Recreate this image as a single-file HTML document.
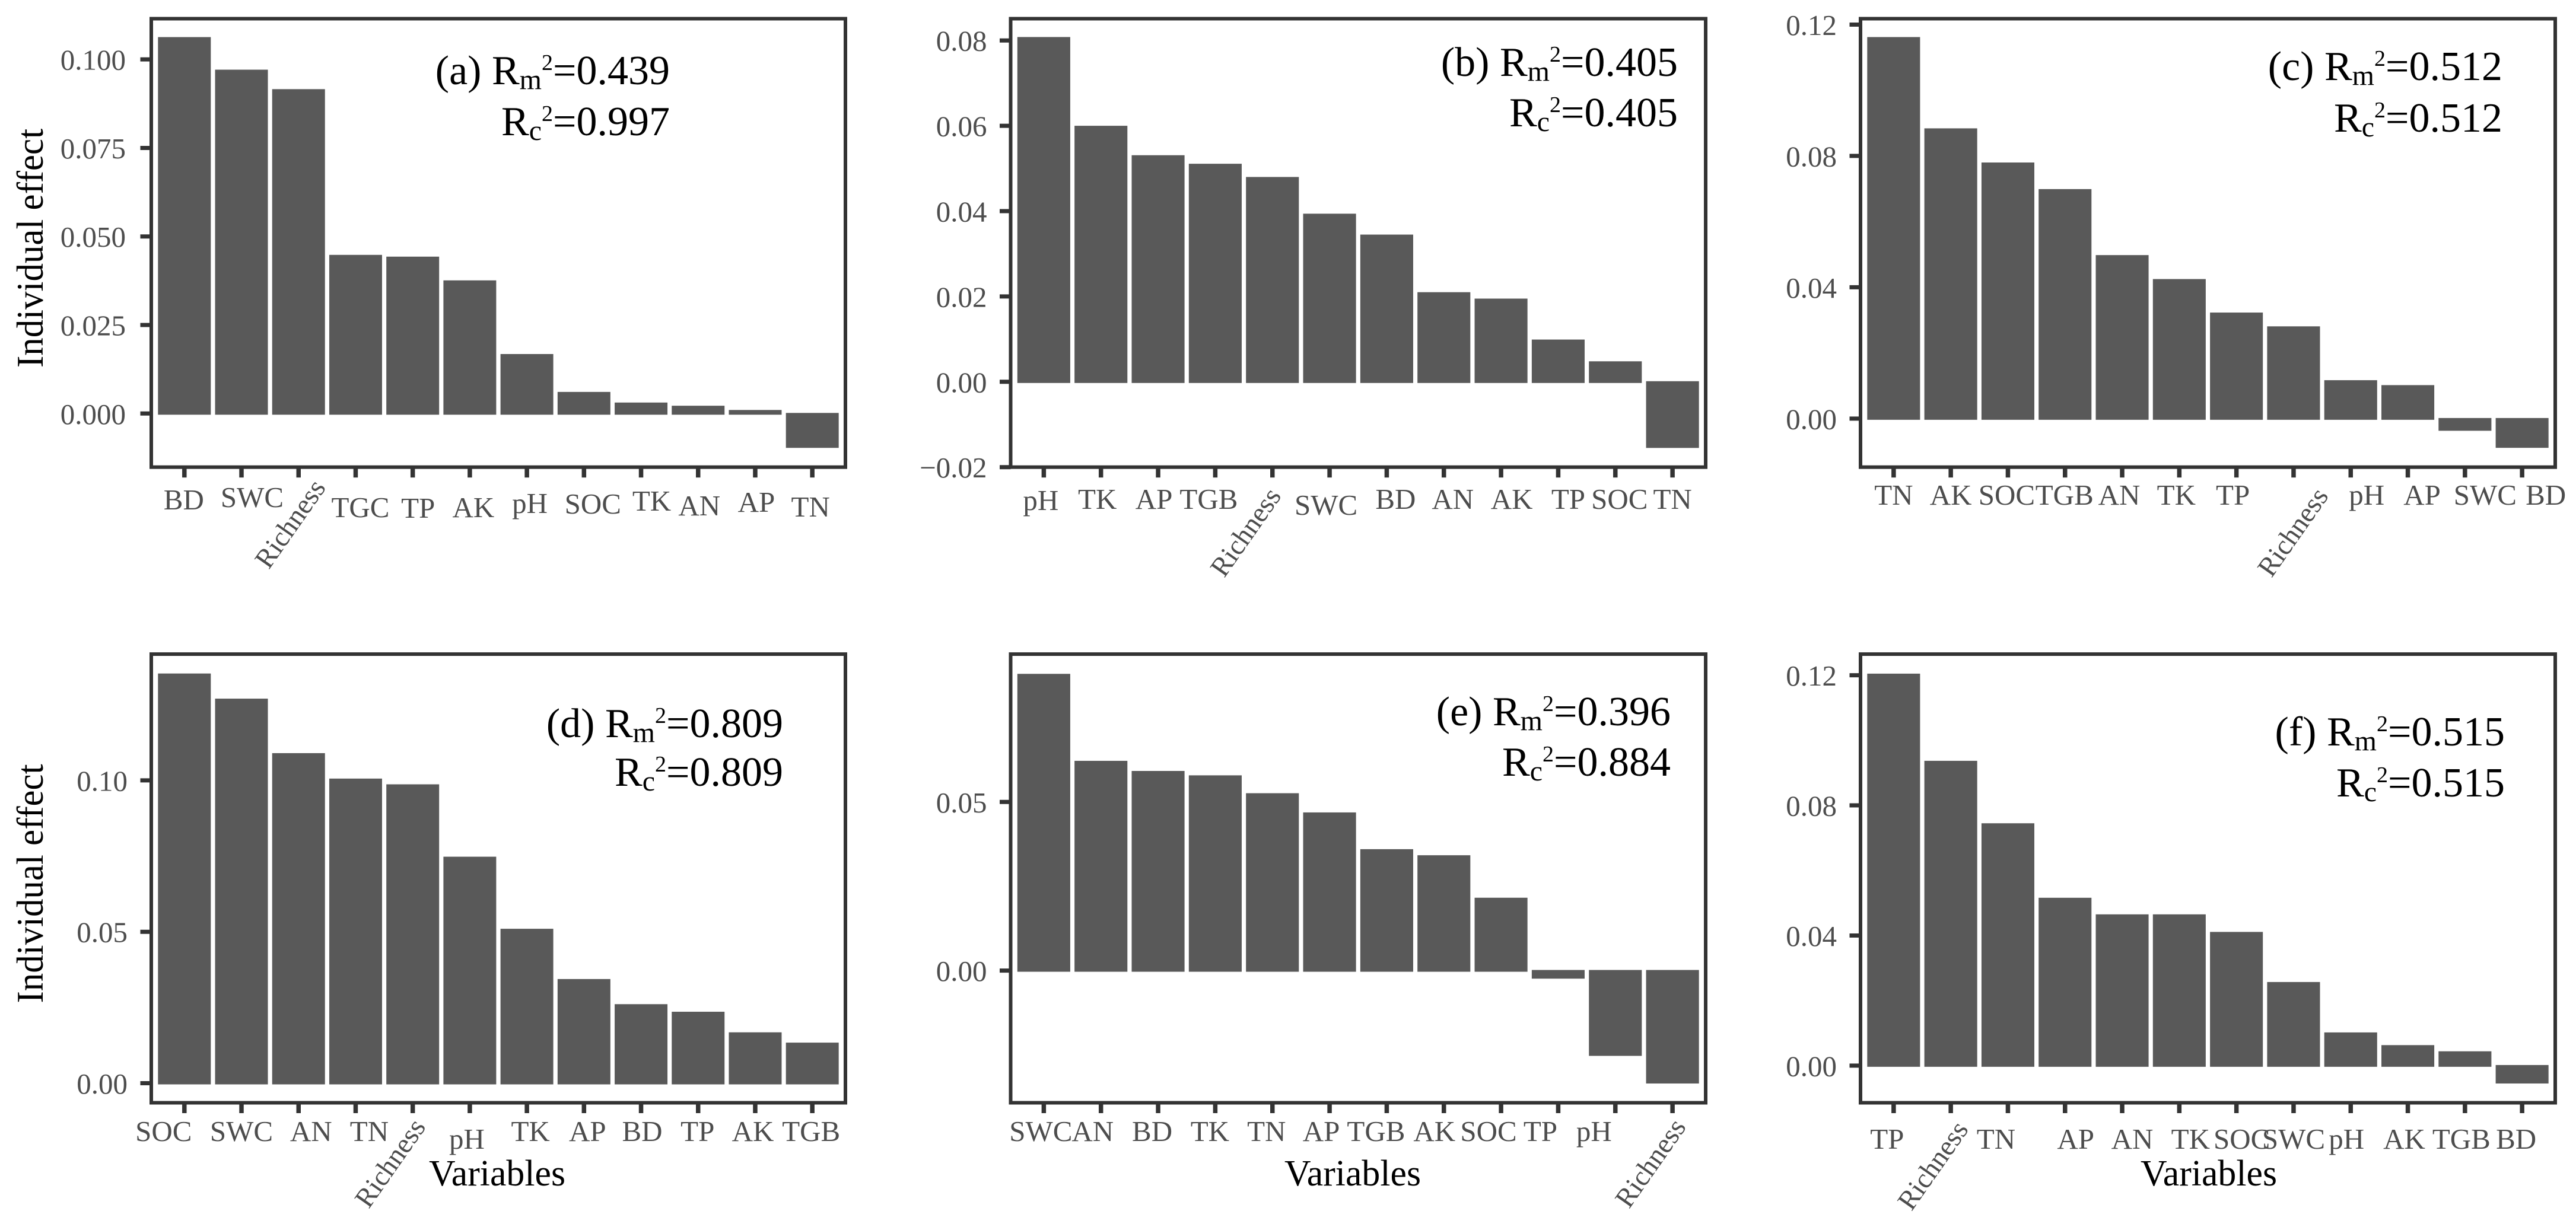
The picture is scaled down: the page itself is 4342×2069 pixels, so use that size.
<!DOCTYPE html>
<html lang="en">
<head>
<meta charset="utf-8">
<title>Individual effect of variables, panels a-f</title>
<style>
html,body{margin:0;padding:0;background:#fff;width:4342px;height:2069px;overflow:hidden}
svg{display:block}
text{font-family:"Liberation Serif",serif}
</style>
</head>
<body>
<svg id="chart" xmlns="http://www.w3.org/2000/svg" width="4342" height="2069" viewBox="0 0 4342 2069"></svg>
<script>
// Panel (a)
const panelACategories = ['BD','SWC','Richness','TGC','TP','AK','pH','SOC','TK','AN','AP','TN'];
const panelAValues = [0.1063,0.0971,0.0916,0.0448,0.0443,0.0376,0.0168,0.0061,0.0031,0.0022,0.0010,-0.0097];
const panelATicks = [0,0.025,0.05,0.075,0.1];
const panelATickLabels = ['0.000','0.025','0.050','0.075','0.100'];
const panelADomain = [-0.01514,0.1115];
// Panel (b)
const panelBCategories = ['pH','TK','AP','TGB','Richness','SWC','BD','AN','AK','TP','SOC','TN'];
const panelBValues = [0.0808,0.0600,0.0531,0.0511,0.0480,0.0394,0.0345,0.0210,0.0195,0.0099,0.0048,-0.0155];
const panelBTicks = [-0.02,0,0.02,0.04,0.06,0.08];
const panelBTickLabels = ['\u22120.02','0.00','0.02','0.04','0.06','0.08'];
const panelBDomain = [-0.0200,0.0851];
// Panel (c)
const panelCCategories = ['TN','AK','SOC','TGB','AN','TK','TP','Richness','pH','AP','SWC','BD'];
const panelCValues = [0.1162,0.0884,0.0780,0.0699,0.0498,0.0425,0.0323,0.0281,0.0117,0.0102,-0.0037,-0.0089];
const panelCTicks = [0,0.04,0.08,0.12];
const panelCTickLabels = ['0.00','0.04','0.08','0.12'];
const panelCDomain = [-0.01478,0.1218];
// Panel (d)
const panelDCategories = ['SOC','SWC','AN','TN','Richness','pH','TK','AP','BD','TP','AK','TGB'];
const panelDValues = [0.1353,0.1270,0.1090,0.1006,0.0987,0.0748,0.0510,0.0344,0.0261,0.0236,0.0168,0.0134];
const panelDTicks = [0,0.05,0.1];
const panelDTickLabels = ['0.00','0.05','0.10'];
const panelDDomain = [-0.00646,0.1417];
// Panel (e)
const panelECategories = ['SWC','AN','BD','TK','TN','AP','TGB','AK','SOC','TP','pH','Richness'];
const panelEValues = [0.0880,0.0622,0.0592,0.0579,0.0526,0.0469,0.0360,0.0342,0.0216,-0.0024,-0.0253,-0.0335];
const panelETicks = [0,0.05];
const panelETickLabels = ['0.00','0.05'];
const panelEDomain = [-0.03921,0.09385];
// Panel (f)
const panelFCategories = ['TP','Richness','TN','AP','AN','TK','SOC','SWC','pH','AK','TGB','BD'];
const panelFValues = [0.1205,0.0937,0.0745,0.0516,0.0465,0.0465,0.0411,0.0257,0.0102,0.0063,0.0044,-0.0055];
const panelFTicks = [0,0.04,0.08,0.12];
const panelFTickLabels = ['0.00','0.04','0.08','0.12'];
const panelFDomain = [-0.01142,0.1265];

// Layout only: hand-placed label nudges, frames and annotation anchors
const layoutA = {id:'a',left:255,right:1425,top:31.5,bottom:787.7,yLabelGap:43,
  labelDx:[-1,18,-13,8,9,6,5,15,18,2,2,-3],labelY:[859,855,884,872,873,872,865,866,861,869,863,871],
  note:['(a) ','0.439','0.997'],noteX:1129,noteY:[142,228],yTitleY:418.5};
const layoutB = {id:'b',left:1703.5,right:2875,top:31.5,bottom:787.7,yLabelGap:40,
  labelDx:[-5,-6,-7,-11,-44,-6,15,15,18,17,7,0],labelY:[860,858,858,858,898,868,858,858,858,858,858,858],
  note:['(b) ','0.405','0.405'],noteX:2828,noteY:[128,213]};
const layoutC = {id:'c',left:3136,right:4307,top:31.5,bottom:787.7,yLabelGap:40,
  labelDx:[0,0,-2,-1,-5,-5,-6,0,27,24,34,40],labelY:[851,851,851,851,851,851,851,898,851,851,851,851],
  note:['(c) ','0.512','0.512'],noteX:4218,noteY:[135,222]};
const layoutD = {id:'d',left:255,right:1425,top:1103,bottom:1859.5,yLabelGap:40,
  labelDx:[-35,0,21,23,-37,-5,6,6,2,-1,-4,-2],labelY:[1924,1924,1924,1924,1962,1937,1924,1924,1924,1924,1924,1924],
  note:['(d) ','0.809','0.809'],noteX:1320,noteY:[1243,1325],yTitleY:1490,xTitleX:838};
const layoutE = {id:'e',left:1703.5,right:2875,top:1103,bottom:1859.5,yLabelGap:40,
  labelDx:[-5,-14,-10,-9,-10,-14,-18,-16,-21,-30,-36,-36],labelY:[1924,1924,1924,1924,1924,1924,1924,1924,1924,1924,1924,1962],
  note:['(e) ','0.396','0.884'],noteX:2816,noteY:[1223,1308],xTitleX:2280};
const layoutF = {id:'f',left:3136,right:4307,top:1103,bottom:1859.5,yLabelGap:40,
  labelDx:[-11,-29,-20,18,17,19,9,0,-7,-6,-6,-10],labelY:[1937,1966,1937,1937,1937,1937,1937,1937,1937,1937,1937,1937],
  note:['(f) ','0.515','0.515'],noteX:4222,noteY:[1257,1343],xTitleX:3723};

const panels = [
  {layout:layoutA,categories:panelACategories,values:panelAValues,ticks:panelATicks,tickLabels:panelATickLabels,domain:panelADomain},
  {layout:layoutB,categories:panelBCategories,values:panelBValues,ticks:panelBTicks,tickLabels:panelBTickLabels,domain:panelBDomain},
  {layout:layoutC,categories:panelCCategories,values:panelCValues,ticks:panelCTicks,tickLabels:panelCTickLabels,domain:panelCDomain},
  {layout:layoutD,categories:panelDCategories,values:panelDValues,ticks:panelDTicks,tickLabels:panelDTickLabels,domain:panelDDomain},
  {layout:layoutE,categories:panelECategories,values:panelEValues,ticks:panelETicks,tickLabels:panelETickLabels,domain:panelEDomain},
  {layout:layoutF,categories:panelFCategories,values:panelFValues,ticks:panelFTicks,tickLabels:panelFTickLabels,domain:panelFDomain}
];

const NS = 'http://www.w3.org/2000/svg';
const svg = document.getElementById('chart');
const BAR_FILL = '#595959', FRAME = '#333333', TICK_TEXT = '#4d4d4d';
const EXPAND = 0.58, BAND = 0.925, TICK_FONT = 49;

function make(parent, tag, attrs, text) {
  const node = document.createElementNS(NS, tag);
  for (const k in attrs) node.setAttribute(k, attrs[k]);
  if (text !== undefined) node.textContent = text;
  parent.appendChild(node);
  return node;
}

function addNote(parent, panelId, x, y, prefix, sub, val, line) {
  const t = make(parent, 'text', {x:x, y:y, 'text-anchor':'end', 'font-size':70, fill:'#000'});
  
  
  make(t, 'tspan', {}, prefix + 'R');
  make(t, 'tspan', {'font-size':48, dy:8}, sub);
  make(t, 'tspan', {'font-size':38, dy:-32}, '2');
  make(t, 'tspan', {dy:24}, '=' + val);
}

panels.forEach(function (p) {
  const L = p.layout, n = p.categories.length;
  const step = (L.right - L.left) / (n - 1 + 2 * EXPAND);
  const xScale = function (i) { return L.left + (EXPAND + i) * step; };
  const yScale = function (v) {
    return L.bottom - (v - p.domain[0]) / (p.domain[1] - p.domain[0]) * (L.bottom - L.top);
  };

  const g = make(svg, 'g', {});
  
  

  p.values.forEach(function (v, i) {
    const y0 = yScale(0), yv = yScale(v), w = step * BAND;
    const top = v >= 0 ? yv : y0 - 1;
    const bottom = v >= 0 ? y0 + 2 : yv;
    const bar = make(g, 'rect', {x:xScale(i) - w / 2, y:top, width:w, height:bottom - top, fill:BAR_FILL});
    
    
  });

  const frame = make(g, 'rect', {x:L.left, y:L.top, width:L.right - L.left, height:L.bottom - L.top, fill:'none', stroke:FRAME, 'stroke-width':6});
  
  

  p.ticks.forEach(function (v, i) {
    const y = yScale(v);
    const tick = make(g, 'line', {x1:L.left - 18.5, x2:L.left, y1:y, y2:y, stroke:FRAME, 'stroke-width':7});
    
    
    const label = make(g, 'text', {x:L.left - L.yLabelGap, y:y + 17.5, 'text-anchor':'end', 'font-size':TICK_FONT, fill:TICK_TEXT}, p.tickLabels[i]);
    
    
  });

  p.categories.forEach(function (c, i) {
    const x = xScale(i);
    const tick = make(g, 'line', {x1:x, x2:x, y1:L.bottom, y2:L.bottom + 17.5, stroke:FRAME, 'stroke-width':7.5});
    
    
    const cx = x + L.labelDx[i], cy = L.labelY[i];
    const attrs = {x:cx, y:cy, 'text-anchor':'middle', 'font-size':TICK_FONT, fill:TICK_TEXT};
    if (c === 'Richness') {
      attrs.y = cy + 14;
      attrs['font-size'] = 47;
      attrs.transform = 'rotate(-55 ' + cx + ' ' + cy + ')';
    }
    const label = make(g, 'text', attrs, c);
    
    
  });

  addNote(g, L.id, L.noteX, L.noteY[0], L.note[0], 'm', L.note[1], 'marginal');
  addNote(g, L.id, L.noteX, L.noteY[1], '', 'c', L.note[2], 'conditional');

  if (L.yTitleY) {
    const yt = make(g, 'text', {x:0, y:0, 'text-anchor':'middle', 'font-size':64, textLength:403, lengthAdjust:'spacingAndGlyphs', fill:'#000', transform:'translate(72 ' + L.yTitleY + ') rotate(-90)'}, 'Individual effect');
    
    
  }
  if (L.xTitleX) {
    const xt = make(g, 'text', {x:L.xTitleX, y:1999, 'text-anchor':'middle', 'font-size':62, textLength:230, lengthAdjust:'spacingAndGlyphs', fill:'#000'}, 'Variables');
    
    
  }
});
</script>
</body>
</html>
